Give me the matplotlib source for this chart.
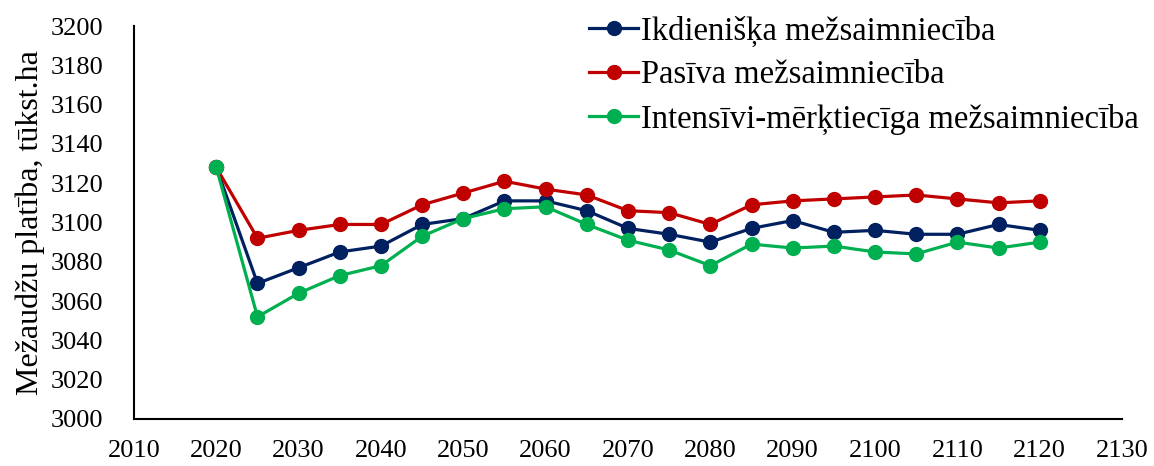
import matplotlib
matplotlib.use("Agg")
import matplotlib.pyplot as plt

# dati
years = [2020, 2025, 2030, 2035, 2040, 2045, 2050, 2055, 2060, 2065, 2070,
         2075, 2080, 2085, 2090, 2095, 2100, 2105, 2110, 2115, 2120]
ikdieniska = [3128, 3069, 3077, 3085, 3088, 3099, 3102, 3111, 3111, 3106, 3097,
              3094, 3090, 3097, 3101, 3095, 3096, 3094, 3094, 3099, 3096]
pasiva = [3128, 3092, 3096, 3099, 3099, 3109, 3115, 3121, 3117, 3114, 3106,
          3105, 3099, 3109, 3111, 3112, 3113, 3114, 3112, 3110, 3111]
intensivi = [3128, 3052, 3064, 3073, 3078, 3093, 3102, 3107, 3108, 3099, 3091,
             3086, 3078, 3089, 3087, 3088, 3085, 3084, 3090, 3087, 3090]
labels = ["Ikdienišķa mežsaimniecība", "Pasīva mežsaimniecība",
          "Intensīvi-mērķtiecīga mežsaimniecība"]
colors = ["#002060", "#C00000", "#00B050"]

plt.rcParams['font.family'] = ['Liberation Serif', 'DejaVu Serif']

fig = plt.figure(figsize=(11.54, 4.66), dpi=100)
ax = fig.add_axes([0.1161, 0.1009, 0.8562, 0.8433])

for vals, lab, c in zip([ikdieniska, pasiva, intensivi], labels, colors):
    ax.plot(years, vals, color=c, lw=2.3, marker='o', markersize=10, label=lab)

ax.set_xlim(2010, 2130)
ax.set_ylim(3000, 3200)
ax.set_xticks(range(2010, 2131, 10))
ax.set_yticks(range(3000, 3201, 20))
ax.tick_params(length=0, labelsize=19)
ax.tick_params(axis='y', pad=22)
ax.tick_params(axis='x', pad=15)
ax.spines['top'].set_visible(False)
ax.spines['right'].set_visible(False)
ax.spines['left'].set_linewidth(1.5)
ax.spines['bottom'].set_linewidth(1.5)
ax.set_ylabel("Mežaudžu platība, tūkst.ha", fontsize=23)
ax.yaxis.set_label_coords(-0.09, 0.5)

ax.legend(loc='upper right', bbox_to_anchor=(0.987, 0.966),
          bbox_transform=fig.transFigure, frameon=False, borderpad=0,
          borderaxespad=0, fontsize=23.5, handlelength=1.5,
          handletextpad=0.1, labelspacing=0.4)

fig.savefig("out.png", dpi=100)
